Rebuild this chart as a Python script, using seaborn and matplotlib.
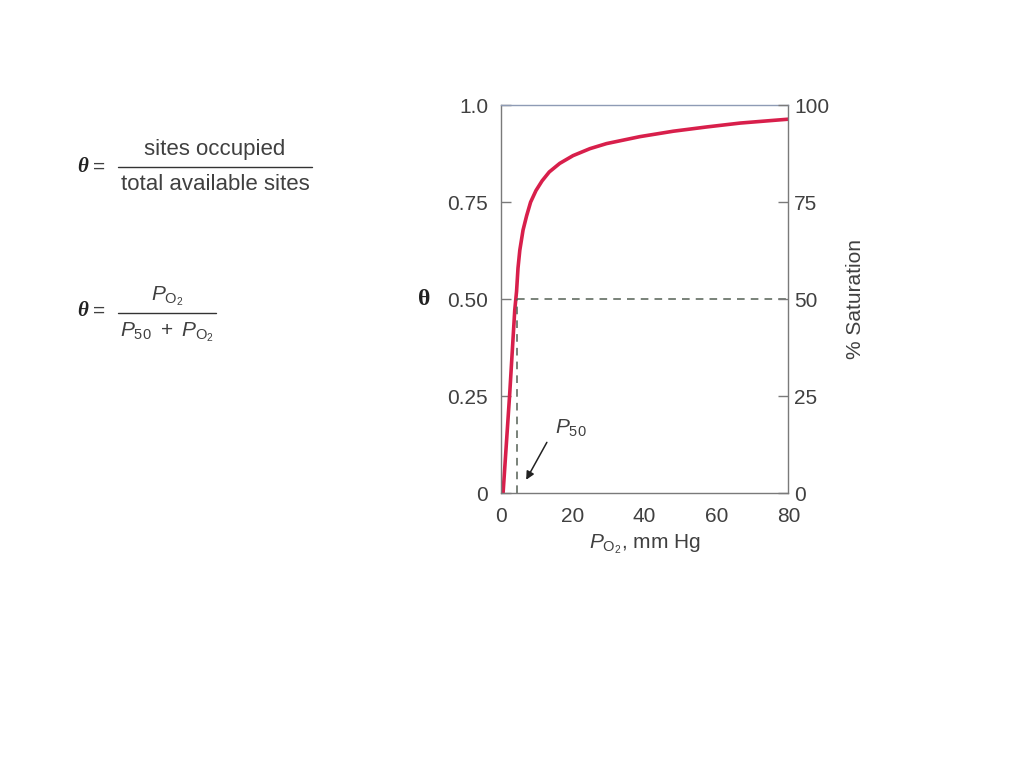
import matplotlib
matplotlib.use("Agg")
import matplotlib.pyplot as plt
from matplotlib.lines import Line2D
import seaborn as sns
import pandas as pd

# Data
po2 = [0.65, 2.5, 3.9, 4.4, 4.8, 5.3, 6.2, 7.2, 8.3, 9.8, 11.5, 13.5, 16.4, 20.1,
       24.8, 29.4, 38.7, 48.0, 57.3, 66.6, 75.9, 80.0]
theta = [0.0, 0.257, 0.472, 0.52, 0.58, 0.626, 0.678, 0.715, 0.750, 0.780, 0.805, 0.828,
         0.850, 0.870, 0.888, 0.901, 0.919, 0.933, 0.944, 0.954, 0.961, 0.964]
p50 = 4.6
x_ticks = [0, 20, 40, 60, 80]
y_ticks = [0, 0.25, 0.50, 0.75, 1.0]
y_tick_labels = ["0", "0.25", "0.50", "0.75", "1.0"]
sat_ticks = [0, 25, 50, 75, 100]

df = pd.DataFrame({"PO2": po2, "theta": theta})

sns.set_style("white")
plt.rcParams["font.family"] = ["Liberation Sans", "DejaVu Sans"]
plt.rcParams["mathtext.fontset"] = "custom"
plt.rcParams["mathtext.rm"] = "Liberation Sans"
plt.rcParams["mathtext.it"] = "Liberation Sans:italic"
plt.rcParams["mathtext.bf"] = "Liberation Sans:bold"

txt = "#404040"
spine = "#7a7a7a"

fig = plt.figure(figsize=(10.24, 7.68), dpi=100)
fig.patch.set_facecolor("white")
ax = fig.add_axes([0.489, 0.358, 0.281, 0.505])

sns.lineplot(data=df, x="PO2", y="theta", ax=ax, color="#d81f4b", linewidth=2.6, sort=False)

# reference dashed lines at P50
ax.plot([p50, 80], [0.5, 0.5], ls=(0, (5, 4)), color="#556055", lw=1.1)
ax.plot([p50, p50], [0, 0.5], ls=(0, (5, 4)), color="#556055", lw=1.1)

ax.set_xlim(0, 80)
ax.set_ylim(0, 1.0)
ax.set_xticks(x_ticks)
ax.set_yticks(y_ticks)
ax.set_yticklabels(y_tick_labels)
ax.tick_params(axis="y", direction="in", length=7, width=1, colors=spine, labelcolor=txt, labelsize=15, pad=9)
ax.tick_params(axis="x", direction="in", length=7, width=1, colors=spine, labelcolor=txt, labelsize=15, pad=10)
for s in ax.spines.values():
    s.set_color(spine)
    s.set_linewidth(1.0)
ax.spines["top"].set_color("#8e9bb5")

ax.set_xlabel(r"$P_{\mathrm{O_2}}$, mm Hg", fontsize=15, color=txt, labelpad=5)
ax.set_ylabel("θ", fontsize=17, color="#222222", rotation=0, fontfamily="Liberation Serif",
              fontweight="bold", va="center")
ax.yaxis.set_label_coords(-0.265, 0.5)

ax2 = ax.twinx()
ax2.set_ylim(0, 100)
ax2.set_yticks(sat_ticks)
ax2.tick_params(direction="in", length=7, width=1, colors=spine, labelcolor=txt, labelsize=15, pad=4)
for s in ax2.spines.values():
    s.set_visible(False)
ax2.set_ylabel("% Saturation", fontsize=15, color=txt, labelpad=12)

# P50 annotation
ax.annotate("", xy=(6.7, 0.028), xytext=(13.2, 0.137),
            arrowprops=dict(arrowstyle="-|>", color="#222222", lw=1.1, mutation_scale=12))
ax.text(15.0, 0.140, r"$P_{50}$", fontsize=15, color=txt, ha="left", va="bottom")

# Formulas (left side)
def fline(x0, x1, y):
    fig.add_artist(Line2D([x0 / 1024, x1 / 1024], [1 - y / 768, 1 - y / 768],
                          color="#333333", lw=1.0, transform=fig.transFigure))

def theta_eq(y):
    fig.text(77 / 1024, 1 - y / 768, "θ", fontsize=15, color="#222222", ha="left", va="center",
             fontweight="bold", fontstyle="italic", fontfamily="Liberation Serif")
    fig.text(93 / 1024, 1 - y / 768, "=", fontsize=15, color=txt, ha="left", va="center")

theta_eq(167)
fline(118, 312, 167)
fig.text(215 / 1024, 1 - 150 / 768, "sites occupied", fontsize=16, color=txt, ha="center", va="center")
fig.text(215 / 1024, 1 - 185 / 768, "total available sites", fontsize=16, color=txt, ha="center", va="center")

theta_eq(311)
fline(118, 216, 313)
fig.text(167 / 1024, 1 - 296 / 768, r"$P_{\mathrm{O_2}}$", fontsize=15, color=txt, ha="center", va="center")
fig.text(167 / 1024, 1 - 332 / 768, r"$P_{50}\ +\ P_{\mathrm{O_2}}$", fontsize=15, color=txt, ha="center", va="center")

fig.savefig("out.png", dpi=100, facecolor="white")
